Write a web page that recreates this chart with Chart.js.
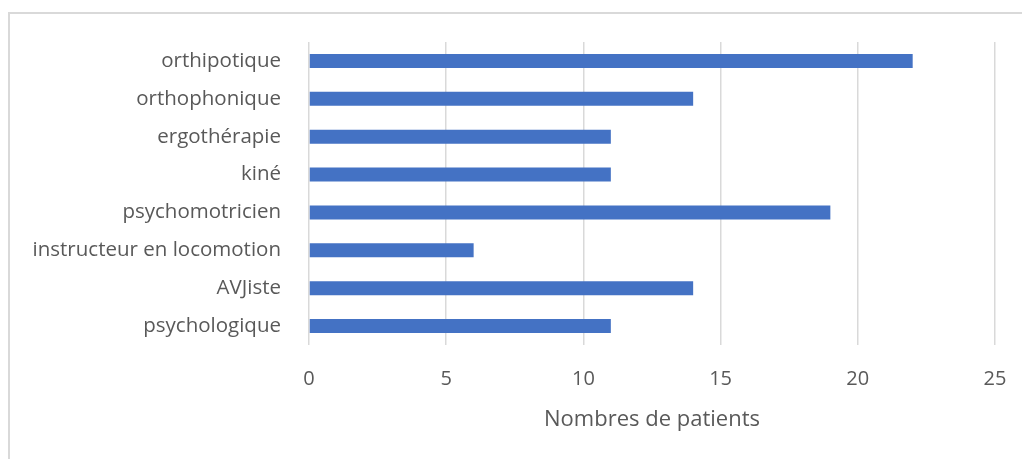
<!DOCTYPE html>
<html>
<head>
<meta charset="utf-8">
<script src="https://cdn.jsdelivr.net/npm/chart.js@4.4.0/dist/chart.umd.min.js"></script>
<style>
  html, body { margin: 0; padding: 0; background: #fff; overflow: hidden; }
  #wrap { position: relative; width: 1022px; height: 459px; }
  #frame { position: absolute; left: 8px; top: 12px; width: 1100px; height: 500px; border-left: 2px solid #d9d9d9; border-top: 2px solid #d9d9d9; box-sizing: border-box; }
  canvas { position: absolute; left: 0; top: 0; }
</style>
</head>
<body>
<div id="wrap">
  <div id="frame"></div>
  <canvas id="c" width="1022" height="459"></canvas>
</div>
<script>
const categories = ["orthipotique", "orthophonique", "ergothérapie", "kiné", "psychomotricien", "instructeur en locomotion", "AVJiste", "psychologique"];
const patients = [22, 14, 11, 11, 19, 6, 14, 11];
const xTicks = [0, 5, 10, 15, 20, 25];
const xTitle = "Nombres de patients";

const FONT = "'Open Sans', 'Liberation Sans', sans-serif";
new Chart(document.getElementById('c'), {
  type: 'bar',
  data: {
    labels: categories,
    datasets: [{
      data: patients,
      backgroundColor: '#4472C4',
      borderWidth: 0,
      categoryPercentage: 0.37,
      barPercentage: 1.0
    }]
  },
  options: {
    indexAxis: 'y',
    responsive: false,
    animation: false,
    layout: { padding: { top: 42, right: 27, left: 0, bottom: 26 } },
    plugins: { legend: { display: false }, tooltip: { enabled: false } },
    scales: {
      x: {
        min: 0, max: 25,
        afterBuildTicks: (s) => { s.ticks = xTicks.map(v => ({ value: v })); },
        afterFit: (s) => { s.height = 88; s.paddingLeft = 0; s.paddingRight = 0; },
        grid: { color: '#d9d9d9', lineWidth: 1.5, drawTicks: false },
        border: { display: false },
        ticks: { color: '#595959', font: { family: FONT, size: 20 }, padding: 22 },
        title: { display: true, text: xTitle, color: '#595959', font: { family: FONT, size: 22 }, padding: { top: 7, bottom: 0 } }
      },
      y: {
        afterFit: (s) => { s.width = 309; s.paddingTop = 0; s.paddingBottom = 0; },
        grid: { display: false, drawTicks: false },
        border: { display: false },
        ticks: { color: '#595959', font: { family: FONT, size: 20.5 }, padding: 28 }
      }
    }
  }
});
</script>
</body>
</html>
